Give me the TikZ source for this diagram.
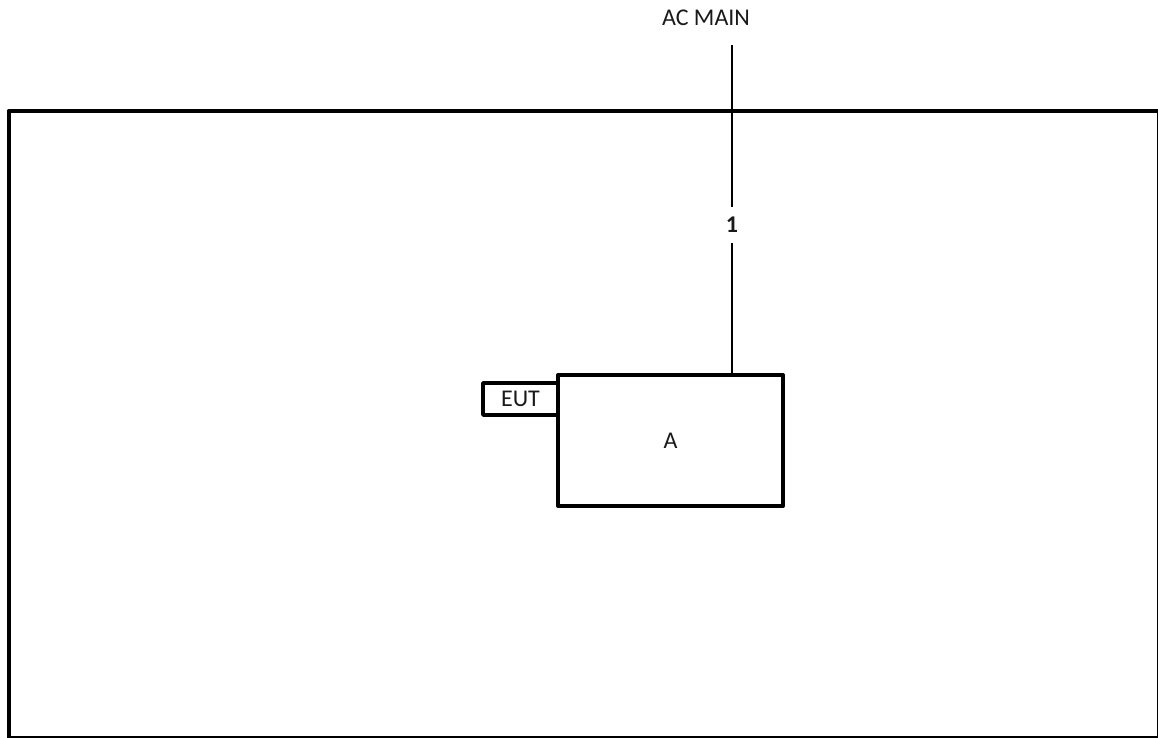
\documentclass[tikz,border=0pt]{standalone}
\usepackage{fontspec}
\setmainfont{Carlito}
\usetikzlibrary{positioning,calc}
\definecolor{wline}{HTML}{000000}
\definecolor{wtext}{HTML}{1A1A1A}
\tikzset{
  frame/.style={draw=wline,line width=4pt,line join=round},
  blockbox/.style={draw=wline,fill=white,line width=4pt,line join=round,minimum width=225pt,minimum height=131pt,inner sep=0pt,outer sep=0pt,font=\fontsize{24}{29}\selectfont,text=wtext},
  tagbox/.style={draw=wline,fill=white,line width=3.5pt,line join=round,minimum width=75pt,minimum height=32pt,inner sep=0pt,outer sep=0pt,font=\fontsize{24}{29}\selectfont,text=wtext},
  feedline/.style={draw=wline,line width=2pt},
  lbl/.style={font=\fontsize{24}{29}\selectfont,text=wtext,inner sep=0pt,outer sep=0pt},
  num/.style={font=\fontsize{24}{29}\selectfont\bfseries,text=wtext,inner xsep=3pt,inner ysep=10.5pt,outer sep=0pt},
}
\begin{document}
\begin{tikzpicture}[x=1pt,y=1pt]
  \useasboundingbox (0,0) rectangle (1158,738);
  % enclosure
  \draw[frame] (8.5,627) rectangle (1159,-0.5);
  % equipment
  \node[blockbox] (boxA) at (670.5,297.5) {A};
  \node[tagbox,anchor=north east] (eut) at ([yshift=-8pt]boxA.north west) {EUT};
  % supply
  \node[lbl] (acmain) at (706,720) {AC MAIN};
  \coordinate (feed) at (732,693);
  \node[num] (n1) at (732,513) {1};
  \draw[feedline] (feed) -- (n1.north);
  \draw[feedline] (n1.south) -- (n1.south |- boxA.north);
\end{tikzpicture}
\end{document}
